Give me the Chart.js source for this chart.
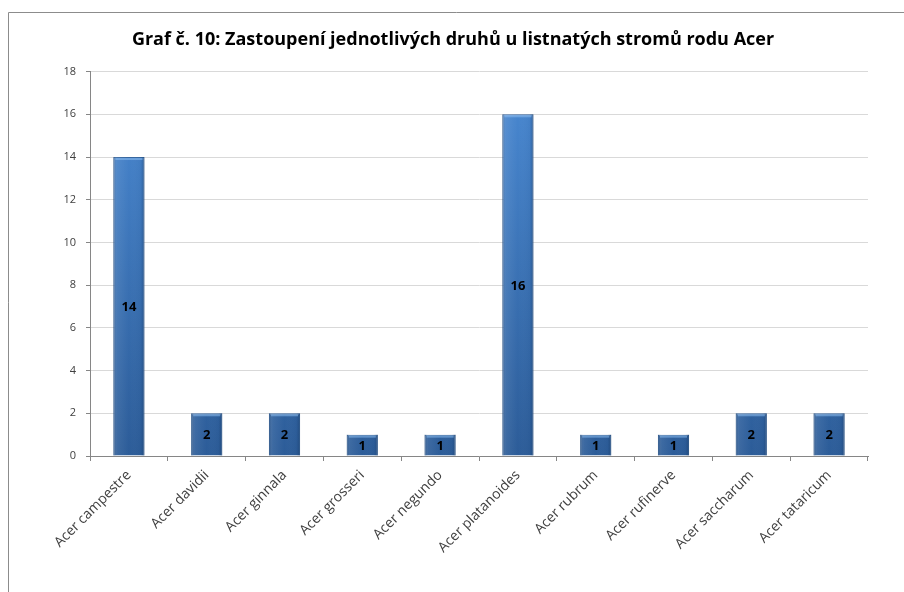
<!DOCTYPE html>
<html>
<head>
<meta charset="utf-8">
<script src="https://cdn.jsdelivr.net/npm/chart.js@4"></script>
<style>
  html, body { margin: 0; padding: 0; background: #fff; }
  #wrap { width: 904px; height: 592px; position: relative; }
</style>
</head>
<body>
<div id="wrap"><canvas id="acer-chart"></canvas></div>
<script>
// druhy javorů a počty stromů
const druhy = ["Acer campestre", "Acer davidii", "Acer ginnala", "Acer grosseri", "Acer negundo",
               "Acer platanoides", "Acer rubrum", "Acer rufinerve", "Acer saccharum", "Acer tataricum"];
const pocty = [14, 2, 2, 1, 1, 16, 1, 1, 2, 2];
const osaY = { min: 0, max: 18, krok: 2 };
const nadpis = "Graf č. 10: Zastoupení jednotlivých druhů u listnatých stromů rodu Acer";

const pismo = "'Open Sans', 'Noto Sans', sans-serif";

// rámeček kolem grafu
const ramecek = {
    id: 'ramecek',
    beforeDraw(chart) {
        const c = chart.ctx;
        c.save();
        c.strokeStyle = '#8c8c8c';
        c.lineWidth = 1;
        c.beginPath();
        c.moveTo(8.5, chart.height + 5);
        c.lineTo(8.5, 12.5);
        c.lineTo(chart.width + 5, 12.5);
        c.stroke();
        c.restore();
    }
};

// stínování sloupců (okraje a světlý horní pruh)
const stin = {
    id: 'stin',
    afterDatasetsDraw(chart) {
        const c = chart.ctx;
        chart.getDatasetMeta(0).data.forEach(bar => {
            const w = bar.width, l = bar.x - w / 2, t = bar.y, h = bar.base - bar.y;
            const g = c.createLinearGradient(l, 0, l + w, 0);
            g.addColorStop(0, 'rgba(20,50,90,0.35)');
            g.addColorStop(0.12, 'rgba(255,255,255,0.08)');
            g.addColorStop(0.5, 'rgba(255,255,255,0)');
            g.addColorStop(0.88, 'rgba(20,50,90,0.05)');
            g.addColorStop(1, 'rgba(20,50,90,0.4)');
            c.save();
            c.fillStyle = g;
            c.fillRect(l, t, w, h);
            c.fillStyle = 'rgba(140,190,240,0.55)';
            c.fillRect(l + 2, t + 1, w - 4, 2);
            c.restore();
        });
    }
};

// hodnoty uprostřed sloupců
const hodnoty = {
    id: 'hodnoty',
    afterDatasetsDraw(chart) {
        const c = chart.ctx;
        const ds = chart.data.datasets[0];
        c.save();
        c.font = "bold 13px " + pismo;
        c.fillStyle = '#000';
        c.textAlign = 'center';
        c.textBaseline = 'middle';
        chart.getDatasetMeta(0).data.forEach((bar, i) => {
            c.fillText(String(ds.data[i]), bar.x, (bar.y + bar.base) / 2 + 1);
        });
        c.restore();
    }
};

const ctx = document.getElementById('acer-chart').getContext('2d');

const graf = new Chart(ctx, {
    type: 'bar',
    data: {
        labels: druhy,
        datasets: [{
            data: pocty,
            backgroundColor(context) {
                const area = context.chart.chartArea;
                if (!area) return '#3a74b8';
                const g = context.chart.ctx.createLinearGradient(0, area.top, 0, area.bottom);
                g.addColorStop(0, '#4a8ad4');
                g.addColorStop(1, '#2c5c98');
                return g;
            },
            borderColor: '#35669f',
            borderWidth: 1,
            categoryPercentage: 1,
            barPercentage: 0.4
        }]
    },
    options: {
        responsive: true,
        maintainAspectRatio: false,
        animation: false,
        layout: { padding: { left: 38, right: 36, top: 20, bottom: 0 } },
        plugins: {
            legend: { display: false },
            tooltip: { enabled: false },
            title: {
                display: true,
                text: nadpis,
                color: '#000',
                font: { family: pismo, size: 18, weight: 'bold' },
                padding: { top: 9, bottom: 21 }
            }
        },
        scales: {
            x: {
                grid: {
                    display: true,
                    drawOnChartArea: false,
                    drawTicks: true,
                    tickLength: 5,
                    offset: true,
                    color: '#868686'
                },
                border: { color: '#868686' },
                ticks: {
                    color: '#404040',
                    font: { family: pismo, size: 14 },
                    minRotation: 45,
                    maxRotation: 45,
                    padding: 6,
                    autoSkip: false
                },
                afterFit(scale) { scale.height = 136; }
            },
            y: {
                min: osaY.min,
                max: osaY.max,
                ticks: {
                    stepSize: osaY.krok,
                    color: '#404040',
                    font: { family: pismo, size: 11 },
                    padding: 10
                },
                grid: {
                    color: '#d9d9d9',
                    tickColor: '#868686',
                    tickLength: 4
                },
                border: { color: '#868686' },
                afterFit(scale) { scale.width = 52; }
            }
        }
    },
    plugins: [ramecek, stin, hodnoty]
});
</script>
</body>
</html>
